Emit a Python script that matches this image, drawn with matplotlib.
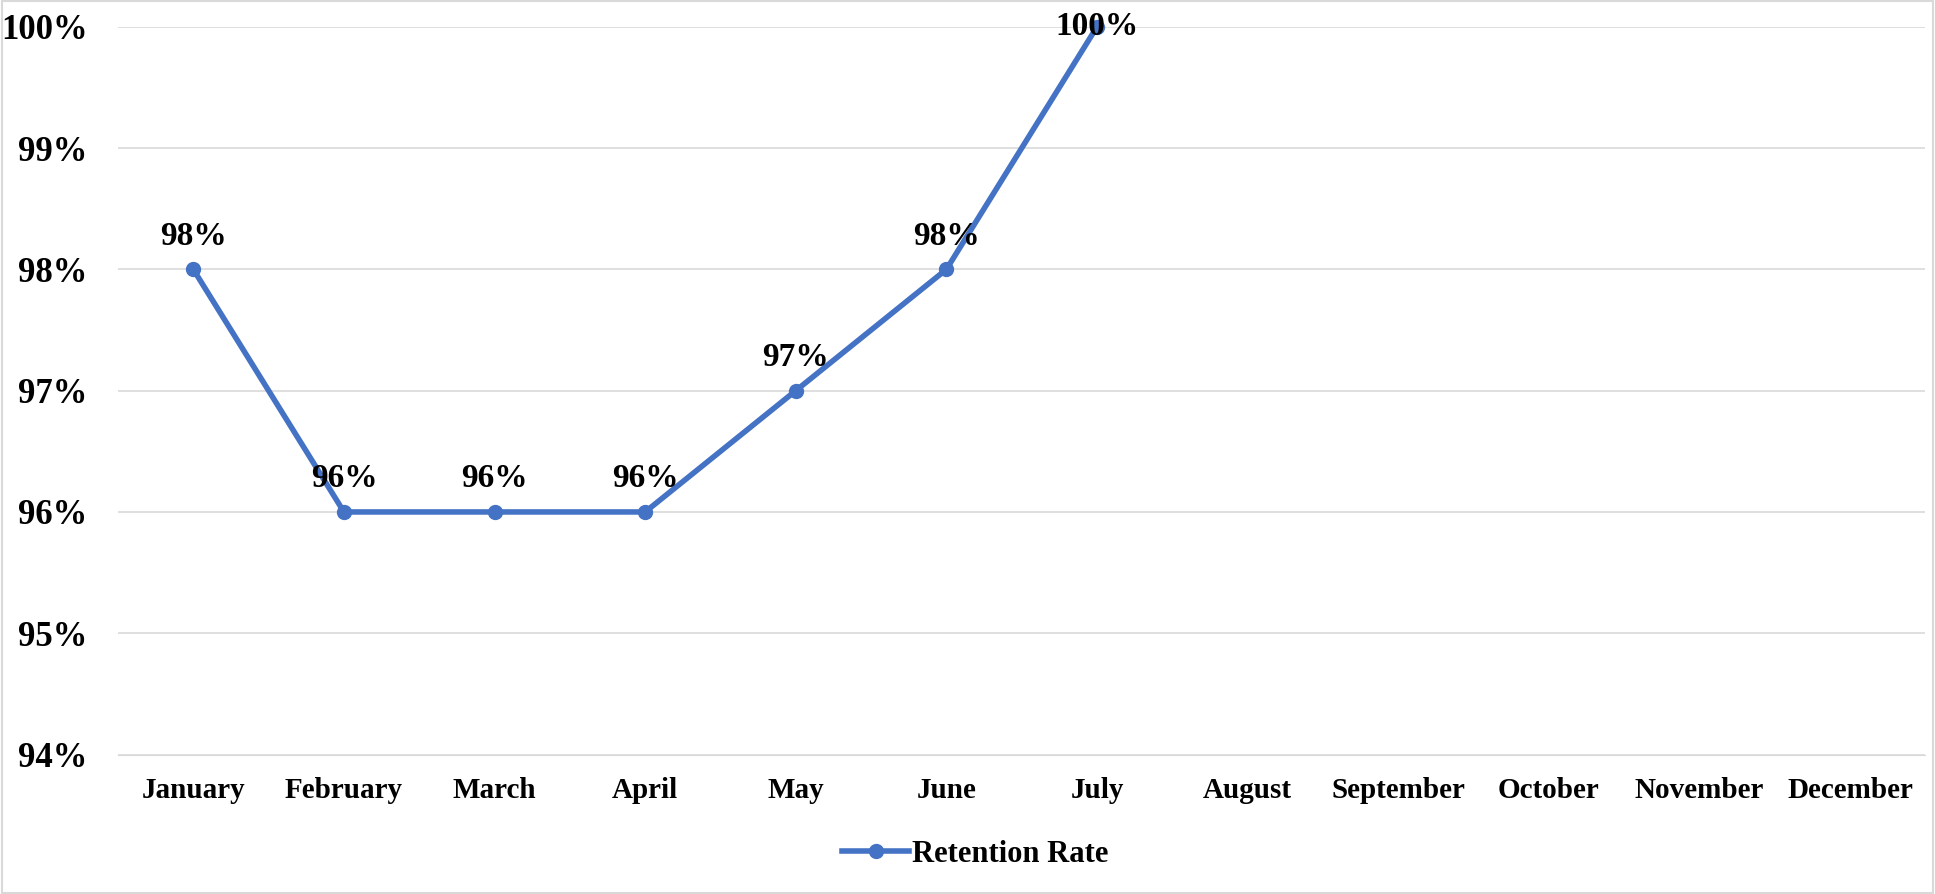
import matplotlib
matplotlib.use("Agg")
from matplotlib import pyplot as plt
from matplotlib.patches import Rectangle
from matplotlib.ticker import FuncFormatter

months = ['January', 'February', 'March', 'April', 'May', 'June', 'July',
          'August', 'September', 'October', 'November', 'December']
retention = [98, 96, 96, 96, 97, 98, 100]
labels = ['98%', '96%', '96%', '96%', '97%', '98%', '100%']

plt.rcParams['font.family'] = 'Liberation Serif'
plt.rcParams['font.weight'] = 'bold'

fig = plt.figure(figsize=(19.35, 8.94), dpi=100)
ax = fig.add_axes([0.061, 0.156, 0.934, 0.814])
color = '#4472C4'

x = list(range(len(retention)))
ax.plot(x, retention, color=color, linewidth=4, marker='o', markersize=10,
        label='Retention Rate', clip_on=False, zorder=3)
for xi, yi, lab in zip(x, retention, labels):
    off = 0 if yi >= 100 else 24
    ax.annotate(lab, (xi, yi), xytext=(0, off), textcoords='offset points',
                ha='center', va='center', fontsize=24, fontweight='bold', zorder=4)

ax.set_xlim(-0.5, len(months) - 0.5)
ax.set_ylim(94, 100)
ax.set_xticks(range(len(months)))
ax.set_xticklabels(months, fontsize=21, fontweight='bold')
ax.set_yticks(range(94, 101))
ax.yaxis.set_major_formatter(FuncFormatter(lambda v, p: f'{int(v)}%'))
ax.tick_params(axis='y', labelsize=25, length=0, pad=22)
ax.tick_params(axis='x', length=0, pad=16)
ax.grid(axis='y', color='#D9D9D9', linewidth=1.2)
for s in ['top', 'right', 'left']:
    ax.spines[s].set_visible(False)
ax.spines['bottom'].set_color('#D9D9D9')
ax.set_axisbelow(True)

fig.legend(loc='center', bbox_to_anchor=(0.504, 0.044), frameon=False,
           prop={'size': 22, 'weight': 'bold'}, handlelength=2.2, handletextpad=0.1)
fig.patches.append(Rectangle((0.001, 0.001), 0.998, 0.998, transform=fig.transFigure,
                             fill=False, edgecolor='#D9D9D9', linewidth=1.5))

plt.savefig('out.png', dpi=100)
